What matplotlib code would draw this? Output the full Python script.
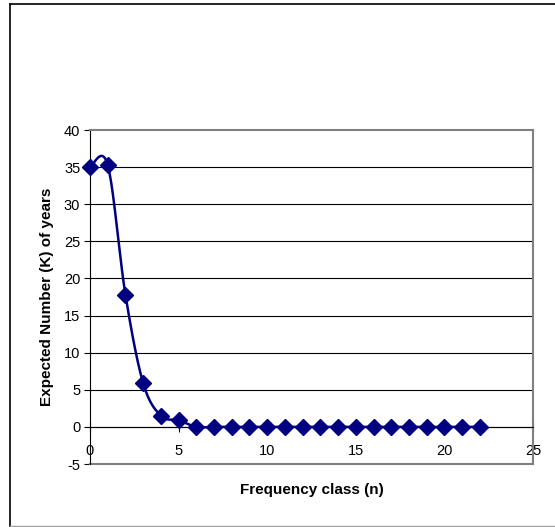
import numpy as np
import matplotlib
matplotlib.use("Agg")
import matplotlib.pyplot as plt
from matplotlib.lines import Line2D

plt.rcParams['font.family'] = ['Liberation Sans', 'DejaVu Sans']
plt.rcParams['axes.unicode_minus'] = False

n_class = list(range(23))
expected_k = [35.0, 35.3, 17.8, 5.9, 1.5, 0.9] + [0.0] * 17
x_ticks = [0, 5, 10, 15, 20, 25]
y_ticks = [-5, 0, 5, 10, 15, 20, 25, 30, 35, 40]

NAVY = '#000080'
W, H = 555, 527

def catmull_rom(xs, ys, steps=20):
    xs = np.asarray(xs, float); ys = np.asarray(ys, float)
    px = np.concatenate([[xs[0]], xs, [xs[-1]]])
    py = np.concatenate([[ys[0]], ys, [ys[-1]]])
    outx, outy = [], []
    for i in range(1, len(px) - 2):
        p0x, p1x, p2x, p3x = px[i-1], px[i], px[i+1], px[i+2]
        p0y, p1y, p2y, p3y = py[i-1], py[i], py[i+1], py[i+2]
        c1x = p1x + (p2x - p0x) / 6; c1y = p1y + (p2y - p0y) / 6
        c2x = p2x - (p3x - p1x) / 6; c2y = p2y - (p3y - p1y) / 6
        t = np.linspace(0, 1, steps, endpoint=False)
        bx = (1-t)**3*p1x + 3*(1-t)**2*t*c1x + 3*(1-t)*t**2*c2x + t**3*p2x
        by = (1-t)**3*p1y + 3*(1-t)**2*t*c1y + 3*(1-t)*t**2*c2y + t**3*p2y
        outx.extend(bx); outy.extend(by)
    outx.append(xs[-1]); outy.append(ys[-1])
    return np.array(outx), np.array(outy)

fig = plt.figure(figsize=(W/100, H/100), dpi=100)
# outer chart-area frame (left/top black, bottom gray; right edge beyond image)
fig.lines.append(Line2D([9.5/W, 9.5/W], [1 - 4/H, 1 - 526/H], transform=fig.transFigure,
                        color='black', linewidth=1.2))
fig.lines.append(Line2D([9.5/W, 1.0], [1 - 4/H, 1 - 4/H], transform=fig.transFigure,
                        color='black', linewidth=1.2))
fig.lines.append(Line2D([9.5/W, 1.0], [1 - 526/H, 1 - 526/H], transform=fig.transFigure,
                        color='#a0a0a0', linewidth=1.0))

ax = fig.add_axes([90/W, 1 - 464/H, 443/W, 334/H])

ax.set_xlim(0, 25)
ax.set_ylim(-5, 40)
ax.set_xticks(x_ticks)
ax.set_yticks(y_ticks)

for y in y_ticks[1:-1]:
    ax.axhline(y, color='black', linewidth=0.8, zorder=1)

sx, sy = catmull_rom(n_class, expected_k)
ax.plot(sx, sy, color=NAVY, linewidth=1.8, zorder=3)
ax.plot(n_class, expected_k, linestyle='none', marker='D', markersize=8.6,
        color=NAVY, zorder=4, clip_on=False)

ax.spines['bottom'].set_position(('data', 0))
ax.spines['bottom'].set_color('black')
ax.spines['bottom'].set_linewidth(0.8)
ax.spines['left'].set_color('black')
ax.spines['left'].set_linewidth(0.8)
ax.spines['top'].set_color('#808080')
ax.spines['right'].set_color('#808080')
ax.spines['top'].set_linewidth(1.5)
ax.spines['right'].set_linewidth(1.5)
ax.plot([0, 25], [-5, -5], color='#808080', linewidth=1.5, clip_on=False, zorder=2)

ax.tick_params(axis='x', direction='inout', length=7, width=0.8, labelsize=10.5, pad=9)
ax.tick_params(axis='y', direction='out', length=4, width=0.8, labelsize=10.5, pad=3)

ax.set_ylabel('Expected Number (K) of years', fontsize=11, fontweight='bold', labelpad=7)
fig.text(312/W, 1 - 490/H, 'Frequency class (n)', fontsize=11, fontweight='bold',
         ha='center', va='center')

fig.savefig('out.png', dpi=100)
